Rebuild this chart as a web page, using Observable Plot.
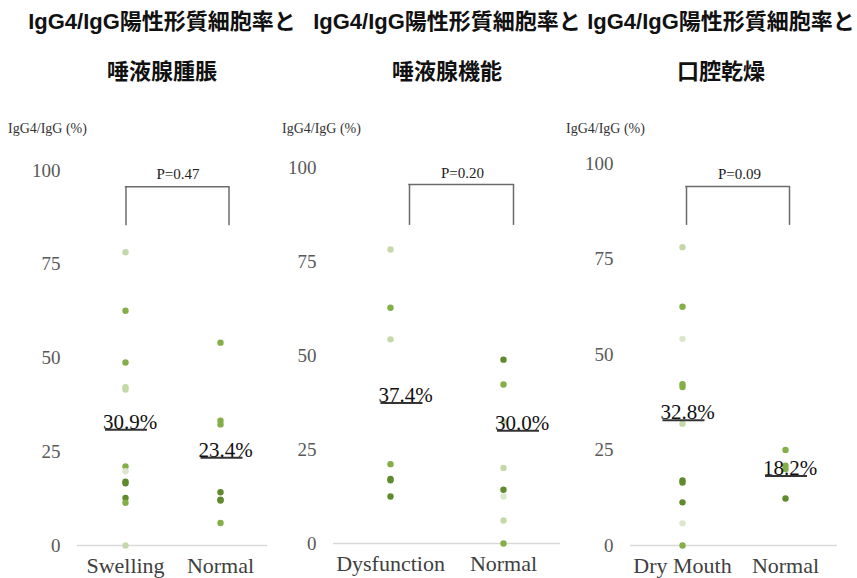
<!DOCTYPE html>
<html><head><meta charset="utf-8">
<script src="https://cdn.jsdelivr.net/npm/d3@7"></script>
<script src="https://cdn.jsdelivr.net/npm/@observablehq/plot@0.6"></script>
<style>
body{margin:0;background:#fff;}
#root{position:relative;width:857px;height:578px;overflow:hidden;background:#fff;}
.title{position:absolute;font-family:"Liberation Sans","Noto Sans CJK JP";font-weight:700;font-size:22px;color:#111;white-space:nowrap;transform:translateX(-50%);line-height:1;}
.ylab{position:absolute;font-family:"Liberation Serif";font-size:14px;color:#333;white-space:nowrap;line-height:1;}
.panel{position:absolute;top:100px;}
.pp [aria-label^="y-axis"] text{fill:#595959;font-size:19px;font-family:"Liberation Serif";}
.pp [aria-label^="x-axis"] text{fill:#404040;font-size:22px;font-family:"Liberation Serif";}
</style></head><body><div id="root"></div>
<script>
// ---- data ----
const titleLine1 = "IgG4/IgG陽性形質細胞率と";
const panelTitles = ["唾液腺腫脹", "唾液腺機能", "口腔乾燥"];
const yLabel = "IgG4/IgG (%)";
const yTicks = [0, 25, 50, 75, 100];
const categories = [["Swelling", "Normal"], ["Dysfunction", "Normal"], ["Dry Mouth", "Normal"]];
const pLabels = ["P=0.47", "P=0.20", "P=0.09"];
const meanLabels = [["30.9%", "23.4%"], ["37.4%", "30.0%"], ["32.8%", "18.2%"]];
const meanValues = [[30.9, 23.4], [37.4, 30.0], [32.8, 18.2]];
const shadeNames = ["vlight", "light", "medium", "dark"];

const swellingValues = [78.2, 62.6, 48.8, 42.2, 41.6, 21.1, 19.8, 17.0, 16.6, 12.7, 11.4, 0];
const swellingShades = ["light", "medium", "medium", "light", "light", "medium", "vlight", "dark", "dark", "dark", "medium", "light"];
const normal1Values = [54.1, 33.3, 32.3, 14.2, 12.2, 12.0, 6.0];
const normal1Shades = ["medium", "medium", "medium", "dark", "dark", "dark", "medium"];

const dysfunctionValues = [78.2, 62.7, 54.3, 21.1, 17.2, 16.8, 12.5];
const dysfunctionShades = ["light", "medium", "light", "medium", "dark", "dark", "dark"];
const normal2Values = [48.9, 42.3, 32.3, 20.1, 14.3, 12.5, 6.1, 0];
const normal2Shades = ["dark", "medium", "light", "light", "dark", "vlight", "light", "medium"];

const dryMouthValues = [78.1, 62.5, 54.1, 42.2, 41.5, 31.9, 17.0, 16.5, 11.3, 5.8, 0];
const dryMouthShades = ["light", "medium", "vlight", "medium", "medium", "light", "dark", "dark", "dark", "vlight", "medium"];
const normal3Values = [25.0, 20.9, 20.0, 12.3];
const normal3Shades = ["medium", "medium", "medium", "dark"];

const groups = [
  [[swellingValues, swellingShades], [normal1Values, normal1Shades]],
  [[dysfunctionValues, dysfunctionShades], [normal2Values, normal2Shades]],
  [[dryMouthValues, dryMouthShades], [normal3Values, normal3Shades]]
];

// ---- layout / style ----
const shadeColors = ["#dbe7cd", "#c4d8aa", "#84ae48", "#5f8a2e"];
const layout = [
  {left: 0, width: 285, mL: 77, mR: 18, mT: 70, mB: 33, tx: 162, lx: 8,
   meanOff: [1, 1.5], bx: [0.5, 8.5], br: [85.3, 95.7], px: 52.5, py: 98.9},
  {left: 285, width: 285, mL: 48, mR: 10, mT: 67, mB: 35, tx: 447, lx: 282,
   meanOff: [11.5, 15], bx: [19, 10], br: [84.6, 95.5], px: 72, py: 98.4},
  {left: 570, width: 287, mL: 60, mR: 20, mT: 63, mB: 33, tx: 721, lx: 566,
   meanOff: [1.5, 1], bx: [4, 4], br: [83.8, 94.0], px: 57, py: 97.3}
];

const root = document.getElementById("root");

function addDiv(cls, text, left, top) {
  const d = document.createElement("div");
  d.className = cls; d.textContent = text;
  d.style.left = left + "px"; d.style.top = top + "px";
  root.appendChild(d);
}

layout.forEach((L, i) => {
  addDiv("title", titleLine1, L.tx, 11);
  addDiv("title", panelTitles[i], L.tx, 61);
  addDiv("ylab", yLabel, L.lx, 122);

  const cats = categories[i];
  const data = groups[i].flatMap(([vals, shades], k) =>
    vals.map((v, j) => ({cat: cats[k], value: v, shade: shades[j]})));

  const serif = "Liberation Serif";
  const marks = [
    Plot.ruleY([0], {stroke: "#d9d9d9", strokeWidth: 1.3}),
    Plot.dot(data, {x: "cat", y: "value", r: 3.2, fill: "shade"}),
    // bracket
    Plot.ruleX([0], {x: () => cats[0], y1: () => L.br[0], y2: () => L.br[1], dx: L.bx[0], stroke: "#6b6b6b", strokeWidth: 1.5}),
    Plot.ruleX([0], {x: () => cats[1], y1: () => L.br[0], y2: () => L.br[1], dx: L.bx[1], stroke: "#6b6b6b", strokeWidth: 1.5}),
    Plot.ruleY([L.br[1]], {x1: () => cats[0], x2: () => cats[1], insetLeft: L.bx[0] - 0.75, insetRight: -L.bx[1] - 0.75, stroke: "#6b6b6b", strokeWidth: 1.5}),
    Plot.text([pLabels[i]], {x: () => cats[0], y: () => L.py, dx: L.px, text: d => d, fontSize: 15, fontFamily: serif, fill: "#222", textAnchor: "middle", lineAnchor: "middle"})
  ];
  cats.forEach((c, k) => {
    marks.push(Plot.ruleY([meanValues[i][k]], {x1: () => c, x2: () => c, insetLeft: -21, insetRight: -21, dx: L.meanOff[k], stroke: "#333", strokeWidth: 2}));
    marks.push(Plot.text([meanLabels[i][k]], {x: () => c, y: () => meanValues[i][k], text: d => d, dx: L.meanOff[k] + 3.5, dy: -1, fontSize: 21, fontFamily: serif, fill: "#111", textAnchor: "middle", lineAnchor: "bottom"}));
  });

  const chart = Plot.plot({
    className: "pp",
    width: L.width,
    height: 478,
    marginLeft: L.mL, marginRight: L.mR, marginTop: L.mT, marginBottom: L.mB,
    style: {fontFamily: serif, background: "transparent", overflow: "visible"},
    x: {type: "point", domain: cats, padding: 0.5, tickSize: 0, tickPadding: 12, label: null},
    y: {domain: [0, 100], ticks: yTicks, tickSize: 0, tickPadding: 17, label: null},
    color: {domain: shadeNames, range: shadeColors},
    marks
  });
  const wrap = document.createElement("div");
  wrap.className = "panel";
  wrap.style.left = L.left + "px";
  wrap.appendChild(chart);
  root.appendChild(wrap);
});
</script>
</body></html>
